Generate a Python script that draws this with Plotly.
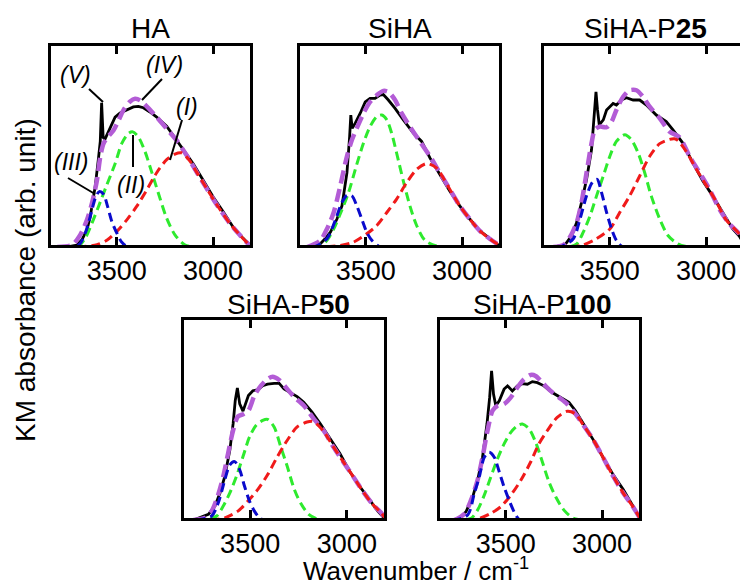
import plotly.graph_objects as go

W, H = 740, 581
FONT = "Liberation Sans, Arial, sans-serif"

# ---------------- data (wavenumber / cm-1, KM absorbance in arb. unit) ----------------
# HA
ha_black_x = [3760, 3707, 3681, 3655, 3638, 3612, 3595, 3586, 3579, 3571, 3562, 3548, 3534, 3509, 3483, 3448, 3414, 3388, 3362, 3328, 3293, 3241, 3207, 3155, 3103, 3052, 3000, 2948, 2897, 2845, 2798]
ha_black_y = [0, 1, 3.6, 8.5, 15, 30, 44, 52, 71, 54, 53, 56, 59, 64, 66, 67.6, 69, 69.3, 68.6, 66.5, 64, 59.5, 55, 48.5, 41, 33, 24.8, 17.5, 10, 4.4, 0]
ha_fit_x = [3810, 3733, 3690, 3655, 3629, 3603, 3586, 3569, 3543, 3517, 3491, 3466, 3431, 3405, 3379, 3345, 3293, 3241, 3190, 3138, 3086, 3034, 2983, 2914, 2862, 2802]
ha_fit_y = [0, 1, 6, 13.4, 21.6, 33, 44.4, 51, 54.6, 57.5, 62.4, 67.3, 71.7, 73, 72.2, 69.3, 64, 58.3, 52.6, 45.3, 37, 29, 21.2, 11.8, 6, 0]
ha_ii_x = [3850, 3759, 3698, 3664, 3629, 3595, 3552, 3509, 3474, 3440, 3417, 3388, 3353, 3319, 3284, 3241, 3198, 3147, 3086, 2800]
ha_ii_y = [0, 0, 0.5, 4.4, 11.8, 20, 30.6, 41, 51, 55.9, 56.7, 54.2, 46.9, 37, 26.5, 14.2, 6, 1.1, 0, 0]
ha_iii_x = [3850, 3802, 3698, 3664, 3638, 3612, 3591, 3569, 3548, 3526, 3500, 3474, 3440, 2800]
ha_iii_y = [0, 0, 1, 6.9, 15, 24, 27.3, 26, 20, 12.6, 6.9, 2.3, 0, 0]
ha_i_x = [3850, 3793, 3672, 3603, 3552, 3500, 3448, 3397, 3345, 3293, 3241, 3198, 3164, 3121, 3086, 3034, 2983, 2914, 2862, 2802]
ha_i_y = [0, 0, 0.3, 1.1, 3.3, 7.7, 13.4, 20, 28, 36.6, 43, 45.8, 46.4, 42.5, 37, 29, 21.2, 11.8, 6, 0]

# SiHA
siha_black_x = [3753, 3719, 3684, 3650, 3624, 3598, 3584, 3578, 3571, 3555, 3529, 3503, 3478, 3452, 3426, 3409, 3383, 3348, 3305, 3253, 3210, 3167, 3116, 3064, 3012, 2960, 2909, 2857, 2805]
siha_black_y = [0, 3.3, 7.3, 13.8, 20.3, 36.6, 54.5, 65, 58.5, 61, 65.9, 71.5, 73.2, 73.2, 74.8, 75.1, 72.4, 68.3, 62.6, 56.1, 52, 43.9, 35.8, 27.6, 20.3, 13.8, 8.1, 4.1, 0.5]
siha_fit_x = [3805, 3736, 3702, 3667, 3633, 3598, 3572, 3547, 3512, 3478, 3443, 3409, 3383, 3348, 3314, 3271, 3219, 3167, 3116, 3064, 3012, 2960, 2909, 2857, 2805]
siha_fit_y = [0, 3.3, 8.9, 17, 30, 44.7, 52.8, 58.5, 65.9, 71.5, 74.8, 76.9, 76.4, 72.4, 65.9, 59.3, 52, 44.7, 36.6, 28.5, 20.3, 13.8, 8.1, 4.1, 0.8]
siha_ii_x = [3850, 3771, 3710, 3667, 3633, 3590, 3547, 3512, 3478, 3443, 3417, 3391, 3366, 3340, 3305, 3271, 3236, 3193, 3133, 3081, 2800]
siha_ii_y = [0, 0, 2.4, 8.9, 16.3, 26.8, 40.7, 51.2, 59.3, 64.2, 65, 62.6, 56.1, 46.3, 32.5, 20.3, 10.6, 3.3, 0.5, 0, 0]
siha_iii_x = [3850, 3771, 3702, 3659, 3624, 3598, 3572, 3547, 3521, 3495, 3469, 3434, 3400, 2800]
siha_iii_y = [0, 0, 4.1, 13, 22, 25.5, 25.2, 20.3, 13.8, 7.3, 3.3, 0.5, 0, 0]
siha_i_x = [3850, 3736, 3633, 3564, 3495, 3443, 3391, 3340, 3288, 3236, 3184, 3133, 3098, 3064, 3012, 2960, 2909, 2857, 2805]
siha_i_y = [0, 0, 0.8, 2.4, 6.5, 10.6, 17, 23.6, 31.7, 38.2, 41.1, 39, 34.1, 28.5, 20.3, 13.8, 8.1, 4.1, 0.8]

# SiHA-P25
p25_black_x = [3793, 3733, 3698, 3672, 3647, 3621, 3595, 3583, 3572, 3564, 3555, 3534, 3517, 3500, 3483, 3466, 3440, 3414, 3379, 3345, 3310, 3259, 3207, 3172, 3121, 3069, 3017, 2966, 2914, 2862, 2828, 2800]
p25_black_y = [0, 1.1, 5.7, 12.2, 22, 33.3, 48, 61, 76.4, 67.5, 60.2, 62.6, 67.5, 69.1, 70.7, 69.9, 72.4, 73.5, 72.4, 72.4, 69.9, 65, 61.8, 57.7, 51.2, 41.5, 32.5, 25.2, 17.1, 8.9, 5.4, 1]
p25_fit_x = [3793, 3741, 3707, 3672, 3647, 3621, 3595, 3578, 3552, 3517, 3491, 3466, 3431, 3397, 3362, 3328, 3293, 3241, 3190, 3138, 3086, 3034, 2983, 2931, 2879, 2828, 2800]
p25_fit_y = [0, 1.1, 4.9, 12.2, 22, 36.6, 51.2, 57.7, 59.3, 59, 61.8, 67.5, 74, 77.2, 77.2, 74, 69.1, 63.4, 56.9, 54, 44.7, 36.6, 28.5, 18.7, 11.4, 6.5, 2]
p25_ii_x = [3850, 3716, 3672, 3638, 3603, 3569, 3534, 3500, 3466, 3422, 3388, 3353, 3319, 3285, 3241, 3198, 3147, 3086, 2800]
p25_ii_y = [0, 0, 1.6, 7.3, 15.4, 25.2, 35, 44.7, 52, 55.3, 52.8, 46.3, 36.6, 25.2, 13.8, 5.7, 1.6, 0, 0]
p25_iii_x = [3850, 3759, 3690, 3655, 3621, 3590, 3566, 3543, 3517, 3491, 3466, 3431, 2800]
p25_iii_y = [0, 0, 4.1, 13.8, 25.2, 32, 33.3, 26.8, 17.1, 8.9, 3.3, 0, 0]
p25_i_x = [3850, 3707, 3638, 3569, 3500, 3448, 3397, 3345, 3293, 3241, 3190, 3164, 3147, 3103, 3052, 3000, 2948, 2897, 2828, 2800]
p25_i_y = [0, 0, 1.1, 4.1, 8.9, 17.1, 25.2, 35, 44.7, 50.9, 53, 53.3, 52.5, 47, 38.5, 30.5, 22.5, 13.5, 6.5, 2]

# SiHA-P50
p50_black_x = [3793, 3716, 3682, 3656, 3631, 3605, 3588, 3577, 3566, 3554, 3537, 3520, 3509, 3486, 3461, 3435, 3410, 3376, 3350, 3325, 3291, 3257, 3223, 3180, 3138, 3087, 3036, 2985, 2934, 2883, 2840, 2798]
p50_black_y = [0, 2.8, 6.9, 13.4, 21.6, 34.6, 47.7, 59.2, 65.4, 57.5, 53.9, 58.3, 61.6, 64, 64.4, 66.5, 67.3, 67.6, 67.6, 64.9, 63.2, 61.1, 58.3, 53.4, 47.7, 40.4, 33, 24, 16.7, 10.1, 4.4, 0]
p50_fit_x = [3793, 3733, 3699, 3665, 3639, 3614, 3588, 3563, 3537, 3509, 3478, 3444, 3410, 3384, 3350, 3316, 3274, 3223, 3172, 3121, 3070, 3019, 2968, 2917, 2866, 2823, 2798]
p50_fit_y = [0, 1.1, 4.4, 12.6, 21.6, 33, 44.4, 51.3, 52.3, 54.2, 61.6, 66.5, 69.8, 70.9, 69.3, 65.7, 61.1, 56.7, 50.2, 44.4, 36.3, 28.9, 21.6, 14.2, 7.7, 3.6, 0.3]
p50_ii_x = [3850, 3733, 3673, 3639, 3605, 3571, 3537, 3503, 3469, 3435, 3410, 3376, 3342, 3308, 3274, 3240, 3197, 3146, 3070, 2800]
p50_ii_y = [0, 0, 2, 6.9, 13.4, 21.6, 31.4, 41.2, 46.9, 49.3, 49.8, 46.1, 36.3, 26.5, 15.8, 8.5, 2.8, 0.3, 0, 0]
p50_iii_x = [3850, 3784, 3699, 3665, 3631, 3605, 3580, 3554, 3529, 3503, 3478, 3452, 3427, 2800]
p50_iii_y = [0, 0, 2, 8.5, 19.9, 27.3, 28.9, 24.8, 16.7, 9.3, 4.4, 1.1, 0, 0]
p50_i_x = [3850, 3699, 3631, 3563, 3512, 3461, 3410, 3359, 3308, 3257, 3206, 3172, 3121, 3070, 3019, 2968, 2917, 2866, 2823, 2798]
p50_i_y = [0, 0, 1.1, 4.4, 9.3, 15, 22.4, 31.4, 39.5, 46.1, 48.5, 48.7, 44, 36.3, 28.9, 21.6, 14.2, 7.7, 3.6, 0.3]

# SiHA-P100
p100_black_x = [3750, 3707, 3672, 3647, 3621, 3598, 3584, 3574, 3564, 3552, 3534, 3509, 3491, 3466, 3440, 3414, 3388, 3362, 3336, 3302, 3259, 3216, 3172, 3138, 3095, 3043, 2991, 2940, 2888, 2845, 2802]
p100_black_y = [0, 4.1, 11.5, 19.7, 31.1, 47.5, 60.7, 73.8, 62.3, 56.6, 59, 64.8, 66.4, 63.9, 66.4, 67.5, 67.2, 68.5, 68, 66.4, 63.1, 60.7, 58.2, 54.1, 47.5, 39.3, 30.3, 22.1, 14.8, 7.4, 0.8]
p100_fit_x = [3767, 3716, 3681, 3647, 3621, 3595, 3569, 3543, 3509, 3474, 3440, 3405, 3371, 3345, 3310, 3267, 3224, 3181, 3138, 3095, 3043, 2991, 2940, 2888, 2845, 2802]
p100_fit_y = [0, 3, 9.8, 19.7, 31.1, 44.3, 54.1, 56.6, 57.4, 60.7, 65.6, 69.7, 71.8, 71.3, 68, 63.9, 60.7, 57.4, 52.5, 46.7, 39.3, 30.3, 21.3, 13.1, 7.4, 0.8]
p100_ii_x = [3850, 3733, 3681, 3647, 3612, 3578, 3543, 3509, 3474, 3440, 3414, 3379, 3345, 3310, 3276, 3241, 3198, 3147, 3095, 2800]
p100_ii_y = [0, 0, 0.8, 4.9, 12.3, 21.3, 30.3, 37.7, 43.4, 46.7, 47.5, 45.1, 38.5, 28.7, 18.9, 11.5, 4.9, 0.8, 0, 0]
p100_iii_x = [3850, 3767, 3698, 3664, 3638, 3612, 3586, 3560, 3534, 3509, 3483, 3457, 3431, 3405, 2800]
p100_iii_y = [0, 0, 2.5, 13.1, 21.3, 31.1, 33.6, 31.1, 23.8, 16.4, 9.8, 4.1, 0.3, 0, 0]
p100_i_x = [3850, 3698, 3638, 3578, 3526, 3474, 3422, 3371, 3328, 3284, 3233, 3181, 3138, 3095, 3043, 2991, 2940, 2888, 2845, 2802]
p100_i_y = [0, 0, 0.8, 3.3, 6.6, 12.3, 19.7, 28.7, 37.7, 44.3, 50.8, 53.8, 52.5, 46.7, 39.3, 30.3, 21.3, 13.1, 7.4, 0.8]

panel_titles = ["HA", "SiHA", "SiHA-P<b>25</b>", "SiHA-P<b>50</b>", "SiHA-P<b>100</b>"]
tick_values = [3500, 3000]
tick_labels = ["3500", "3000"]
band_labels = ["(I)", "(II)", "(III)", "(IV)", "(V)"]

# ---------------- styling / layout ----------------
C_BLACK = "#000000"
C_FIT = "#B35CD6"
C_GREEN = "#2EEA2E"
C_BLUE = "#0A0ACC"
C_RED = "#F01A1A"

def px_x(x):
    return x / W

def px_y(y):
    return 1 - y / H

# plot areas in pixels: (left, right, top, bottom)
boxes = [(51, 250, 46, 245), (300, 499, 46, 245), (544, 740, 46, 245),
         (184, 384, 320, 518), (440, 639, 320, 518)]
xranges = [[3842, 2808], [3842, 2808], [3842, 2824], [3842, 2808], [3842, 2808]]

panel_data = [
    (ha_black_x, ha_black_y, ha_fit_x, ha_fit_y, ha_ii_x, ha_ii_y, ha_iii_x, ha_iii_y, ha_i_x, ha_i_y),
    (siha_black_x, siha_black_y, siha_fit_x, siha_fit_y, siha_ii_x, siha_ii_y, siha_iii_x, siha_iii_y, siha_i_x, siha_i_y),
    (p25_black_x, p25_black_y, p25_fit_x, p25_fit_y, p25_ii_x, p25_ii_y, p25_iii_x, p25_iii_y, p25_i_x, p25_i_y),
    (p50_black_x, p50_black_y, p50_fit_x, p50_fit_y, p50_ii_x, p50_ii_y, p50_iii_x, p50_iii_y, p50_i_x, p50_i_y),
    (p100_black_x, p100_black_y, p100_fit_x, p100_fit_y, p100_ii_x, p100_ii_y, p100_iii_x, p100_iii_y, p100_i_x, p100_i_y),
]

fig = go.Figure()
layout = dict(
    width=W, height=H, margin=dict(l=0, r=0, t=0, b=0),
    paper_bgcolor="white", plot_bgcolor="white", showlegend=False,
    font=dict(family=FONT, color="black"),
)

for i, (bx, by, fx, fy, gx, gy, blx, bly, rx, ry) in enumerate(panel_data):
    n = i + 1
    xa = "x" if n == 1 else f"x{n}"
    ya = "y" if n == 1 else f"y{n}"
    spl = dict(shape="spline", smoothing=0.8)
    fig.add_trace(go.Scatter(x=bx, y=by, xaxis=xa, yaxis=ya, mode="lines",
                             line=dict(color=C_BLACK, width=2.8), hoverinfo="skip"))
    fig.add_trace(go.Scatter(x=fx, y=fy, xaxis=xa, yaxis=ya, mode="lines",
                             line=dict(color=C_FIT, width=4.5, dash="13px,6px", **spl), hoverinfo="skip"))
    fig.add_trace(go.Scatter(x=gx, y=gy, xaxis=xa, yaxis=ya, mode="lines",
                             line=dict(color=C_GREEN, width=3, dash="9px,5px", **spl), hoverinfo="skip"))
    fig.add_trace(go.Scatter(x=rx, y=ry, xaxis=xa, yaxis=ya, mode="lines",
                             line=dict(color=C_RED, width=3, dash="9px,5px", **spl), hoverinfo="skip"))
    fig.add_trace(go.Scatter(x=blx, y=bly, xaxis=xa, yaxis=ya, mode="lines",
                             line=dict(color=C_BLUE, width=3, dash="9px,5px", **spl), hoverinfo="skip"))

    l, r, t, b = boxes[i]
    xkey = "xaxis" if n == 1 else f"xaxis{n}"
    ykey = "yaxis" if n == 1 else f"yaxis{n}"
    layout[xkey] = dict(
        domain=[px_x(l), px_x(r)], anchor=ya, range=xranges[i],
        tickmode="array", tickvals=tick_values, ticktext=tick_labels,
        ticks="inside", ticklen=8, tickwidth=3, tickcolor="black",
        showline=True, linewidth=3, linecolor="black", mirror="ticks",
        showgrid=False, zeroline=False,
        tickfont=dict(family=FONT, size=27, color="black"),
    )
    layout[ykey] = dict(
        domain=[px_y(b), px_y(t)], anchor=xa, range=[1, 99],
        showticklabels=False, ticks="",
        showline=True, linewidth=3, linecolor="black", mirror=(n != 3),
        showgrid=False, zeroline=False,
    )

annotations = []
title_pos = [(150, 28), (400, 28), (645, 28), (288, 304), (542, 304)]
for txt, (x, y) in zip(panel_titles, title_pos):
    annotations.append(dict(text=txt, x=px_x(x), y=px_y(y), xref="paper", yref="paper",
                            xanchor="center", yanchor="middle", showarrow=False,
                            font=dict(family=FONT, size=28, color="black")))

annotations.append(dict(text="KM absorbance (arb. unit)", x=px_x(25), y=px_y(280),
                        xref="paper", yref="paper", textangle=-90,
                        xanchor="center", yanchor="middle", showarrow=False,
                        font=dict(family=FONT, size=28, color="black")))
annotations.append(dict(text="Wavenumber / cm<sup>-1</sup>", x=px_x(416), y=px_y(569),
                        xref="paper", yref="paper",
                        xanchor="center", yanchor="middle", showarrow=False,
                        font=dict(family=FONT, size=26, color="black")))

# band labels in the HA panel (I)..(V)
label_pos = [(187, 107), (131, 185), (71, 162), (164, 65), (75, 75)]
for txt, (x, y) in zip(band_labels, label_pos):
    annotations.append(dict(text=f"<i>{txt}</i>", x=px_x(x), y=px_y(y), xref="paper", yref="paper",
                            xanchor="center", yanchor="middle", showarrow=False,
                            font=dict(family=FONT, size=23, color="black")))

pointer_lines = [((182, 120), (170, 160)), ((133, 135), (133, 167)), ((68, 178), (95, 194)),
                 ((162, 79), (142, 100)), ((89, 89), (103, 102))]
shapes = []
for (x0, y0), (x1, y1) in pointer_lines:
    shapes.append(dict(type="line", xref="paper", yref="paper",
                       x0=px_x(x0), y0=px_y(y0), x1=px_x(x1), y1=px_y(y1),
                       line=dict(color="black", width=2)))

layout["annotations"] = annotations
layout["shapes"] = shapes
fig.update_layout(**layout)
fig.write_html("out.html")
